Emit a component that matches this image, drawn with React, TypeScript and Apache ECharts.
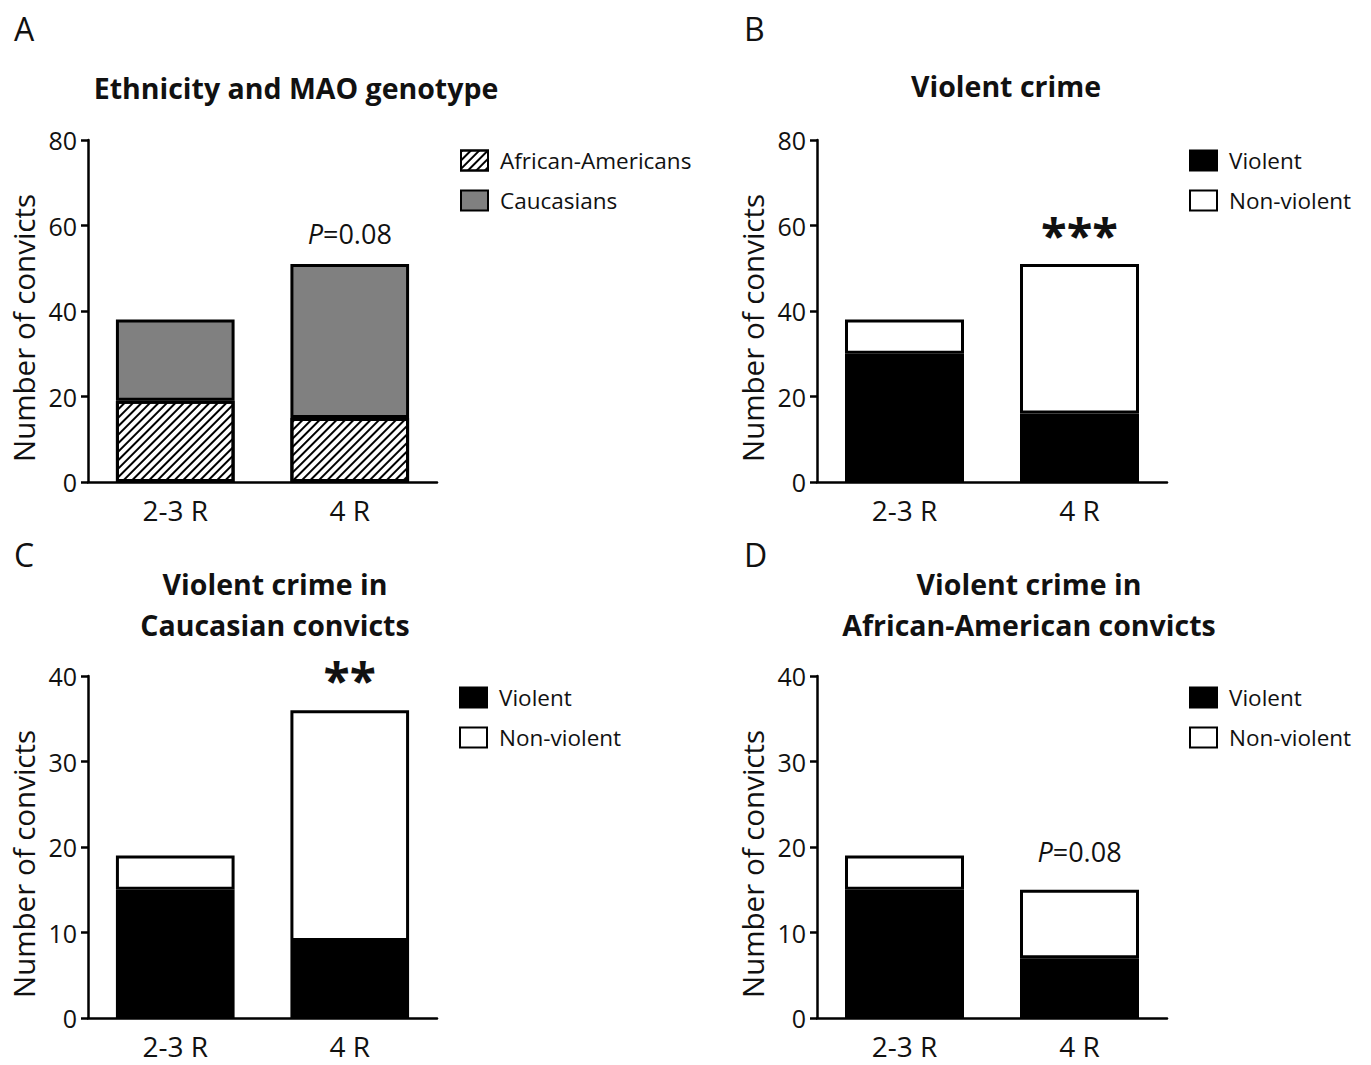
import React, { useEffect, useRef } from "react";
import * as echarts from "echarts";

// ---- data ----
const categories = ["2-3 R", "4 R"];
const panelLetters = ["A", "B", "C", "D"];
const titleA = "Ethnicity and MAO genotype";
const titleB = "Violent crime";
const titleC = "Violent crime in\nCaucasian convicts";
const titleD = "Violent crime in\nAfrican-American convicts";
const yName = "Number of convicts";

const africanAmericans = [19, 15];
const caucasians = [19, 36];
const violentAll = [30, 16];
const nonViolentAll = [8, 35];
const violentCauc = [15, 9];
const nonViolentCauc = [4, 27];
const violentAA = [15, 7];
const nonViolentAA = [4, 8];

const yMaxAB = 80;
const yIntervalAB = 20;
const yMaxCD = 40;
const yIntervalCD = 10;

const annotA = "P=0.08";
const annotB = "***";
const annotC = "**";
const annotD = "P=0.08";

const FONT = "Open Sans";
const INK = "#111";

export default function App() {
  const ref = useRef<HTMLDivElement>(null);
  useEffect(() => {
    if (!ref.current) return;
    const chart = echarts.init(ref.current, null, { renderer: "svg" });

    const grids = [
      { left: 88, top: 140, width: 349, height: 342 },
      { left: 817, top: 140, width: 350, height: 342 },
      { left: 88, top: 676, width: 349, height: 342 },
      { left: 817, top: 676, width: 350, height: 342 },
    ];

    const xAxes = grids.map((_, i) => ({
      type: "category",
      gridIndex: i,
      data: categories,
      axisLine: { lineStyle: { color: "#000", width: 2.5 } },
      axisTick: { alignWithLabel: true, length: 7, lineStyle: { color: "#000", width: 2.5 } },
      axisLabel: { color: INK, fontSize: 28, lineHeight: 28, fontFamily: FONT, margin: 14 },
    }));

    const yAxes = grids.map((_, i) => ({
      type: "value",
      gridIndex: i,
      min: 0,
      max: i < 2 ? yMaxAB : yMaxCD,
      interval: i < 2 ? yIntervalAB : yIntervalCD,
      name: yName,
      nameLocation: "middle",
      nameGap: 50,
      nameTextStyle: { color: INK, fontSize: 29.5, fontFamily: FONT, padding: [0, 34, 0, 0] },
      axisLine: { show: true, lineStyle: { color: "#000", width: 2.5 } },
      axisTick: { show: true, length: 7, lineStyle: { color: "#000", width: 2.5 } },
      splitLine: { show: false },
      axisLabel: { color: INK, fontSize: 25, fontFamily: FONT, margin: 11 },
    }));

    const border = { borderColor: "#000", borderWidth: 3 };
    const pLabel = (text: string, dist: number) => ({
      show: true,
      position: "top",
      distance: dist,
      formatter: "{i|P}{n|" + text.slice(1) + "}",
      rich: {
        i: { fontStyle: "italic", fontSize: 27, fontFamily: FONT, color: INK },
        n: { fontSize: 27, fontFamily: FONT, color: INK },
      },
    });
    const starLabel = (text: string, dist: number, size: number) => ({
      show: true,
      position: "top",
      distance: dist,
      formatter: text,
      fontSize: size,
      fontWeight: "bold",
      fontFamily: FONT,
      color: INK,
    });
    const withLabel = (vals: number[], label: any) =>
      vals.map((v, i) => (i === 1 ? { value: v, label } : v));

    const bar = (name: string, gi: number, data: any[], color: string, extra: any = {}) => ({
      type: "bar",
      name,
      xAxisIndex: gi,
      yAxisIndex: gi,
      stack: "s" + gi,
      barWidth: "68%",
      data,
      itemStyle: { color, ...border, ...extra },
    });

    const hatch = {
      decal: {
        symbol: "rect",
        symbolSize: 1,
        color: "#000",
        dashArrayX: [1, 0],
        dashArrayY: [2, 4],
        rotation: -Math.PI / 4,
      },
    };

    const series = [
      bar("African-Americans", 0, africanAmericans, "#fff", hatch),
      bar("Caucasians", 0, withLabel(caucasians, pLabel(annotA, 17)), "#808080"),
      bar("Violent", 1, violentAll, "#000"),
      bar("Non-violent", 1, withLabel(nonViolentAll, starLabel(annotB, 5, 47)), "#fff"),
      bar("Violent", 2, violentCauc, "#000"),
      bar("Non-violent", 2, withLabel(nonViolentCauc, starLabel(annotC, 7, 48)), "#fff"),
      bar("Violent", 3, violentAA, "#000"),
      bar("Non-violent", 3, withLabel(nonViolentAA, pLabel(annotD, 25)), "#fff"),
    ];

    const legendBase = {
      orient: "vertical",
      icon: "rect",
      itemWidth: 27,
      itemHeight: 20,
      itemGap: 17,
      padding: 0,
      selectedMode: false,
      textStyle: { color: INK, fontSize: 22.5, fontFamily: FONT, padding: [0, 0, 0, 7] },
    };
    const legends = [
      { ...legendBase, left: 460, top: 149, data: ["African-Americans", "Caucasians"] },
      { ...legendBase, left: 1189, top: 149, data: ["Violent", "Non-violent"] },
      { ...legendBase, left: 459, top: 686, data: ["Violent", "Non-violent"] },
      { ...legendBase, left: 1189, top: 686, data: ["Violent", "Non-violent"] },
    ];

    const letterPos = [
      [14, 12],
      [744, 12],
      [14, 538],
      [744, 538],
    ];
    const titlePos = [
      [296, 88, titleA],
      [1006, 86, titleB],
      [275, 604, titleC],
      [1029, 604, titleD],
    ];
    const graphic: any[] = [];
    panelLetters.forEach((l, i) =>
      graphic.push({
        type: "text",
        left: letterPos[i][0],
        top: letterPos[i][1],
        style: { text: l, fontSize: 32, fontFamily: FONT, fill: INK },
      })
    );
    titlePos.forEach((t) =>
      graphic.push({
        type: "text",
        x: t[0] as number,
        y: t[1] as number,
        style: {
          text: t[2] as string,
          fontSize: 28.5,
          fontWeight: "bold",
          fontFamily: FONT,
          fill: INK,
          align: "center",
          verticalAlign: "middle",
          lineHeight: 41,
        },
      })
    );

    chart.setOption({
      animation: false,
      backgroundColor: "#fff",
      grid: grids,
      xAxis: xAxes,
      yAxis: yAxes,
      legend: legends,
      series,
      graphic,
    });
    return () => chart.dispose();
  }, []);
  return (
    <div
      ref={ref}
      style={{ position: "absolute", left: 0, top: 0, width: 1371, height: 1065 }}
    />
  );
}
